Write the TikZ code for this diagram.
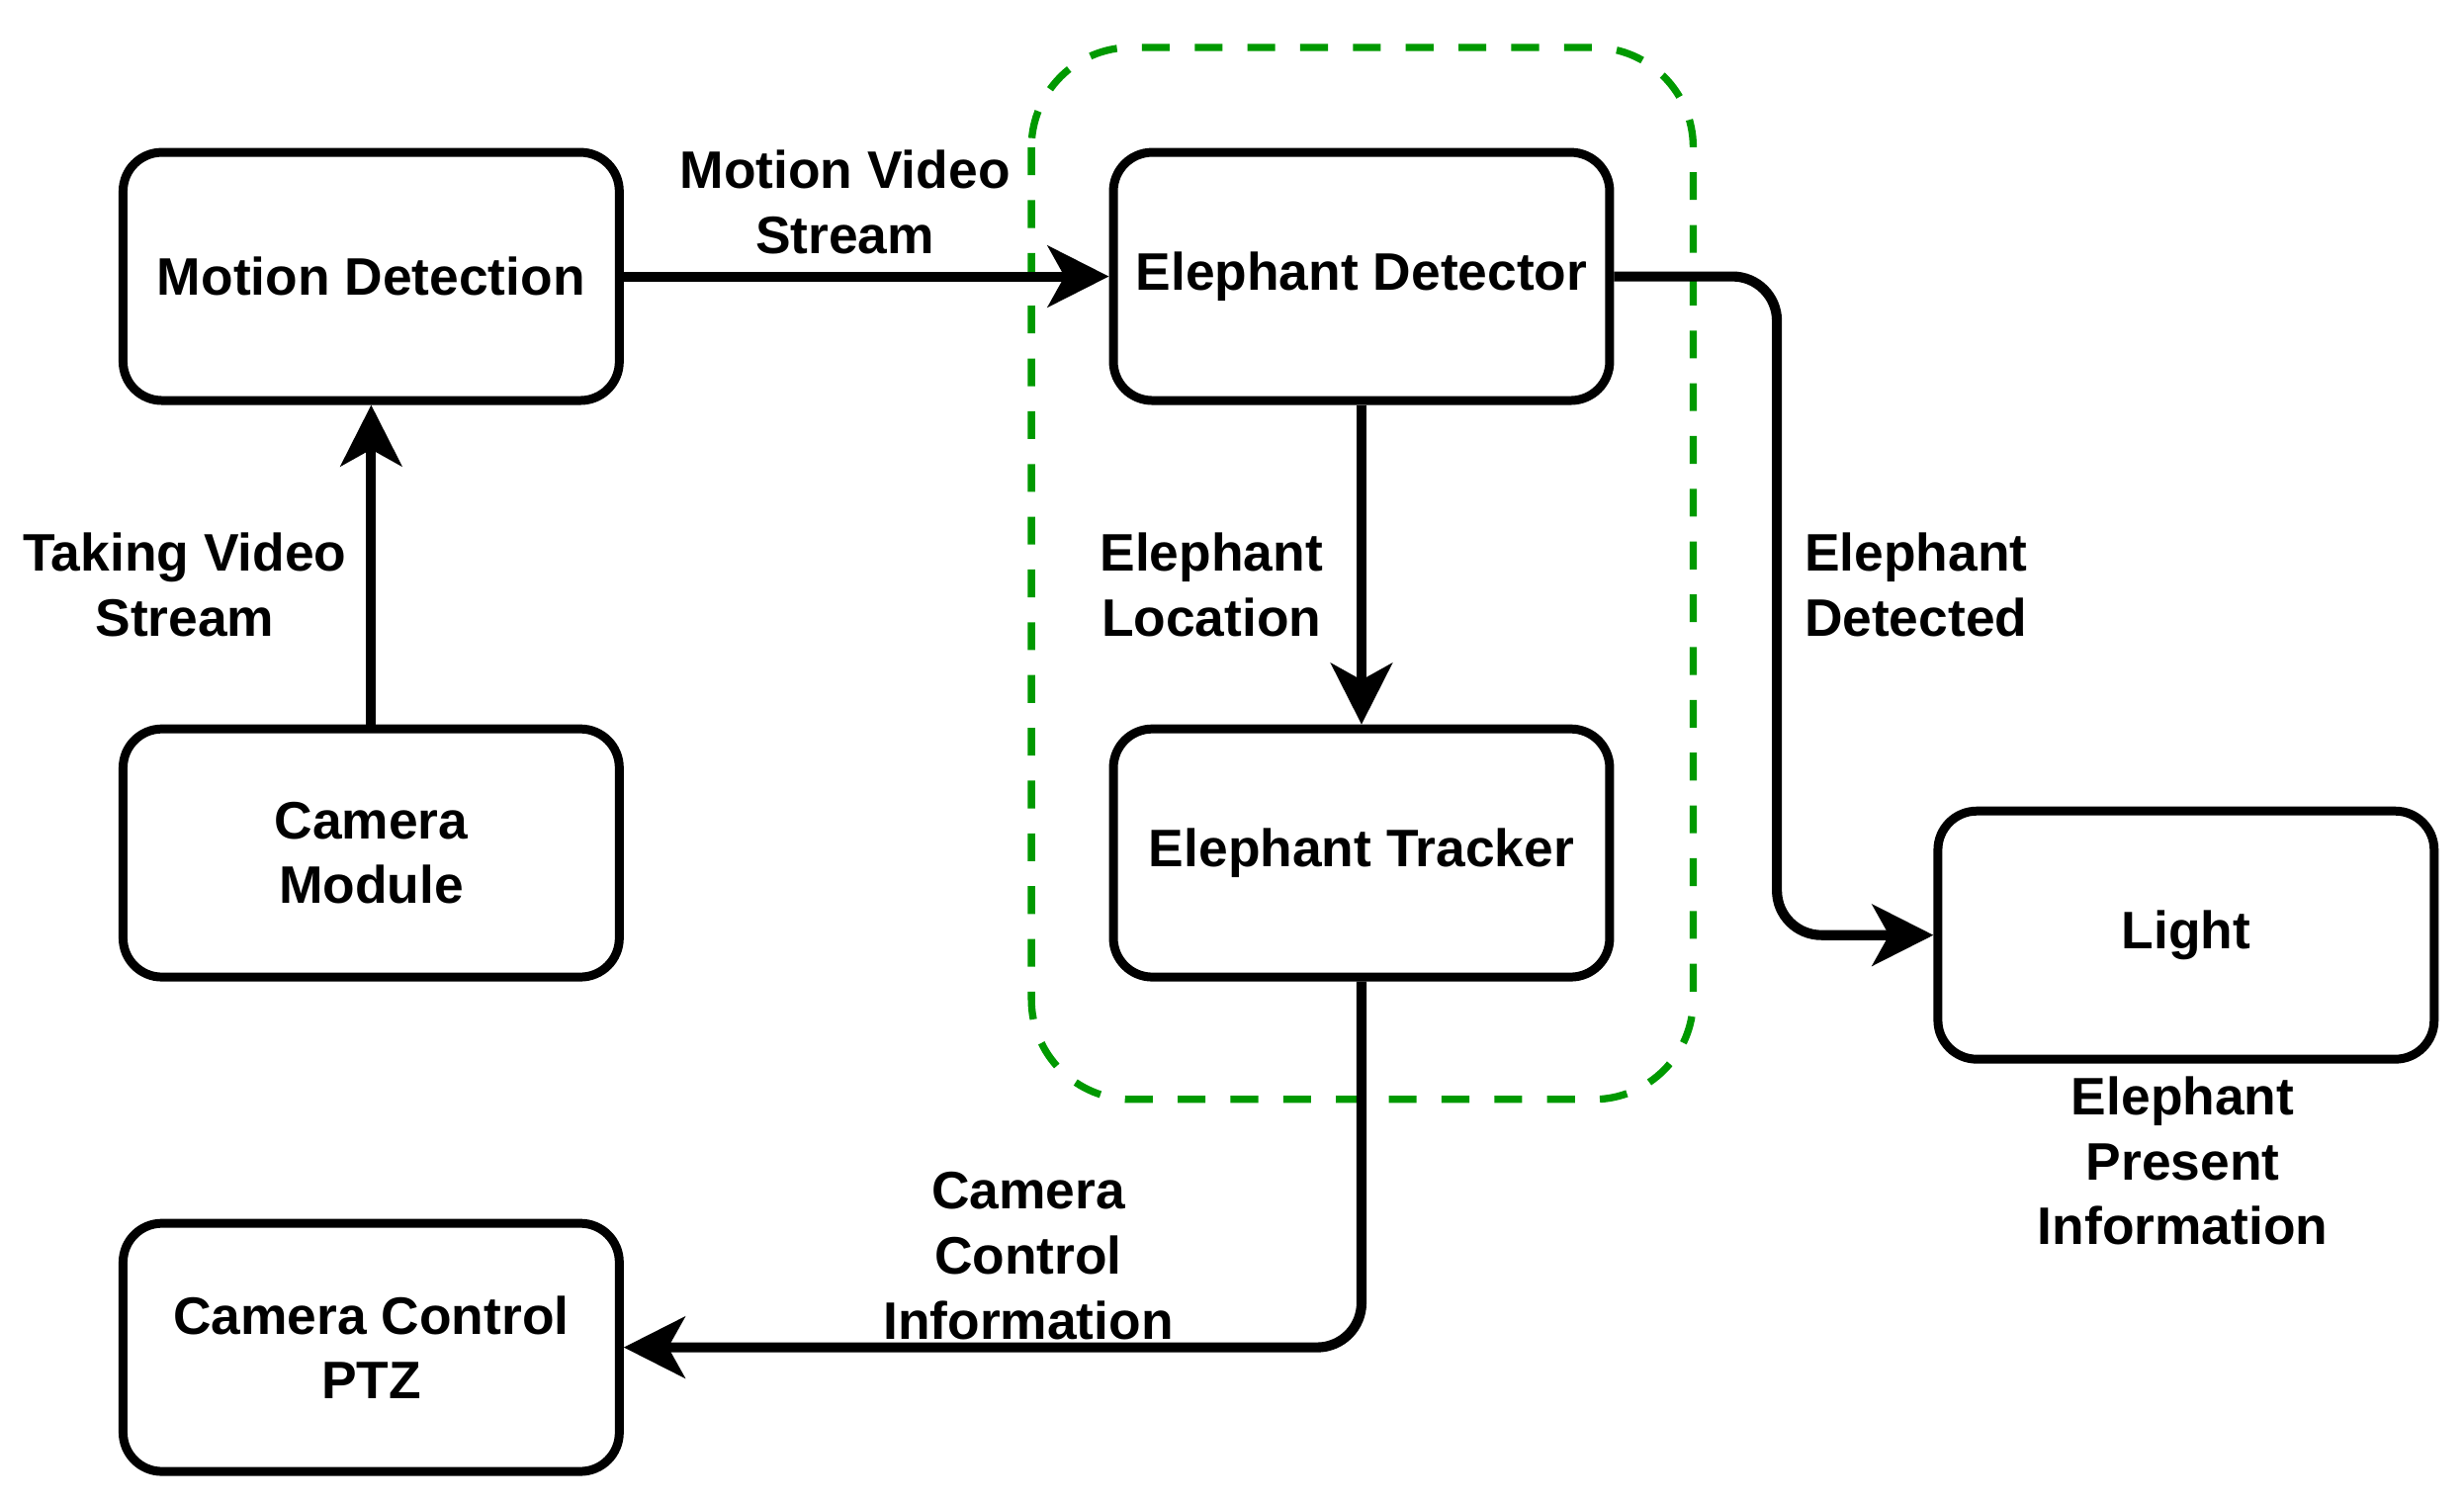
\documentclass[tikz,border=0pt]{standalone}
\usepackage{fontspec}
\setmainfont{Liberation Sans}
\usetikzlibrary{arrows.meta}
\begin{document}
\begin{tikzpicture}[x=0.01cm,y=-0.01cm,
  box/.style={draw,line width=1.6pt,rounded corners=7pt,minimum width=3.14cm,minimum height=1.57cm,align=center,font=\bfseries\fontsize{9.5}{11.7}\selectfont},
  lab/.style={align=center,font=\bfseries\fontsize{9.5}{11.7}\selectfont},
  con/.style={line width=1.8pt,-{Stealth[length=11pt,width=11pt,inset=3pt]},rounded corners=8pt}]
\useasboundingbox (0,0) rectangle (1560,951);
\draw[green!60!black,line width=1.3pt,dash pattern=on 5pt off 4.5pt,rounded corners=18pt] (653,30) rectangle (1072,696);
\node[box] (md) at (235,175) {Motion Detection};
\node[box] (cm) at (235,540) {Camera\\Module};
\node[box] (ptz) at (235,853) {Camera Control\\PTZ};
\node[box] (ed) at (862,175) {Elephant Detector};
\node[box] (et) at (862,540) {Elephant Tracker};
\node[box] (li) at (1384,592) {Light};
\draw[con] (cm) -- (md);
\draw[con] (md) -- (ed);
\draw[con] (ed) -- (et);
\draw[con] (ed.east) -| (1125,400) |- (li.west);
\draw[con] (et.south) |- (ptz.east);
\node[lab] (l1) at (117,370) {Taking Video\\Stream};
\node[lab] (l2) at (535,128) {Motion Video\\Stream};
\node[lab] (l3) at (767,370) {Elephant\\Location};
\node[lab] (l4) at (1213,370) {Elephant\\Detected};
\node[lab] (l5) at (651,795) {Camera\\Control\\Information};
\node[lab] (l6) at (1382,735) {Elephant\\Present\\Information};
\end{tikzpicture}
\end{document}
